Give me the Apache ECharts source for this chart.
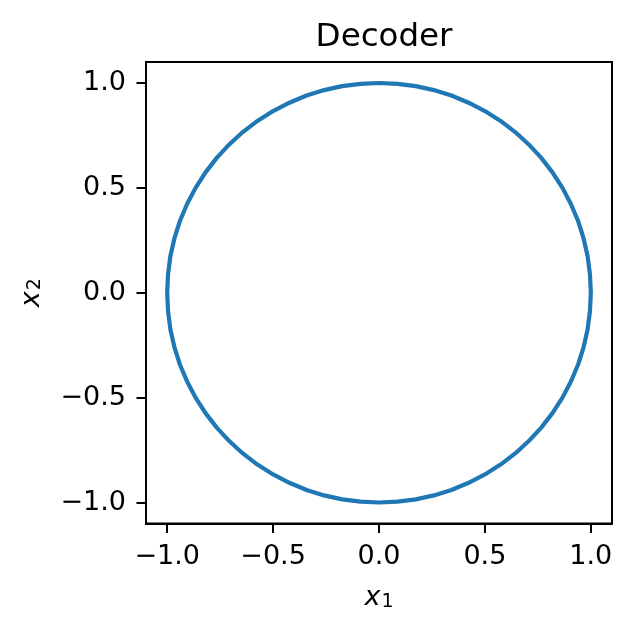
<!DOCTYPE html>
<html>
<head>
<meta charset="utf-8">
<script src="https://cdn.jsdelivr.net/npm/echarts@6/dist/echarts.min.js"></script>
<style>
html,body{margin:0;padding:0;background:#fff;}
#chart{width:632px;height:631px;}
</style>
</head>
<body>
<div id="chart"></div>
<script>
// Decoder output curve (points around the unit circle)
const x1Values = [
  1.000, 0.996, 0.985, 0.966, 0.940, 0.906, 0.866, 0.819, 0.766, 0.707, 0.643, 0.574, 0.500, 0.423, 0.342, 0.259, 0.174, 0.087,
  0.000, -0.087, -0.174, -0.259, -0.342, -0.423, -0.500, -0.574, -0.643, -0.707, -0.766, -0.819, -0.866, -0.906, -0.940, -0.966, -0.985, -0.996,
  -1.000, -0.996, -0.985, -0.966, -0.940, -0.906, -0.866, -0.819, -0.766, -0.707, -0.643, -0.574, -0.500, -0.423, -0.342, -0.259, -0.174, -0.087,
  0.000, 0.087, 0.174, 0.259, 0.342, 0.423, 0.500, 0.574, 0.643, 0.707, 0.766, 0.819, 0.866, 0.906, 0.940, 0.966, 0.985, 0.996,
  1.000
];
const x2Values = [
  0.000, 0.087, 0.174, 0.259, 0.342, 0.423, 0.500, 0.574, 0.643, 0.707, 0.766, 0.819, 0.866, 0.906, 0.940, 0.966, 0.985, 0.996,
  1.000, 0.996, 0.985, 0.966, 0.940, 0.906, 0.866, 0.819, 0.766, 0.707, 0.643, 0.574, 0.500, 0.423, 0.342, 0.259, 0.174, 0.087,
  0.000, -0.087, -0.174, -0.259, -0.342, -0.423, -0.500, -0.574, -0.643, -0.707, -0.766, -0.819, -0.866, -0.906, -0.940, -0.966, -0.985, -0.996,
  -1.000, -0.996, -0.985, -0.966, -0.940, -0.906, -0.866, -0.819, -0.766, -0.707, -0.643, -0.574, -0.500, -0.423, -0.342, -0.259, -0.174, -0.087,
  0.000
];
const tickValues = [-1.0, -0.5, 0.0, 0.5, 1.0];
const tickLabels = ['\u22121.0', '\u22120.5', '0.0', '0.5', '1.0'];
const titleText = 'Decoder';

const FONT = 'DejaVu Sans';
const points = x1Values.map((x, i) => [x, x2Values[i]]);
const fmt = v => {
  const i = tickValues.findIndex(t => Math.abs(t - v) < 1e-9);
  return i >= 0 ? tickLabels[i] : '';
};
const nameRich = {
  i: { fontFamily: FONT, fontStyle: 'italic', fontSize: 27, color: '#000' },
  s: { fontFamily: FONT, fontSize: 19, color: '#000', verticalAlign: 'bottom', padding: [0, 0, 0, 1] }
};
function axis(nameStr, gap, rotate, margin) {
  return {
    type: 'value',
    min: -1.1,
    max: 1.1,
    name: nameStr,
    nameLocation: 'middle',
    nameGap: gap,
    nameRotate: rotate,
    nameTextStyle: { rich: nameRich },
    axisLine: { show: true, onZero: false, lineStyle: { color: '#000', width: 2 } },
    axisTick: { show: true, inside: false, length: 9.5, customValues: tickValues, lineStyle: { color: '#000', width: 2 } },
    axisLabel: { show: true, customValues: tickValues, formatter: fmt, margin: margin, fontFamily: FONT, fontSize: 27, color: '#000' },
    splitLine: { show: false }
  };
}
const chart = echarts.init(document.getElementById('chart'), null, { renderer: 'canvas' });
chart.setOption({
  animation: false,
  backgroundColor: '#fff',
  title: {
    text: titleText,
    left: 379,
    textAlign: 'center',
    top: 16,
    textStyle: { fontFamily: FONT, fontSize: 32.5, fontWeight: 'normal', color: '#000' }
  },
  grid: {
    left: 146, right: 20, top: 62, bottom: 107.5,
    show: true, borderColor: '#000', borderWidth: 2, backgroundColor: 'transparent'
  },
  xAxis: axis('{i|x}{s|1}', 61, 0, 20),
  yAxis: axis('{i|x}{s|2}', 101, 90, 20),
  series: [{
    type: 'line',
    data: points,
    showSymbol: false,
    symbol: 'none',
    smooth: false,
    clip: false,
    lineStyle: { color: '#1f77b4', width: 4.2 }
  }]
});
</script>
</body>
</html>
